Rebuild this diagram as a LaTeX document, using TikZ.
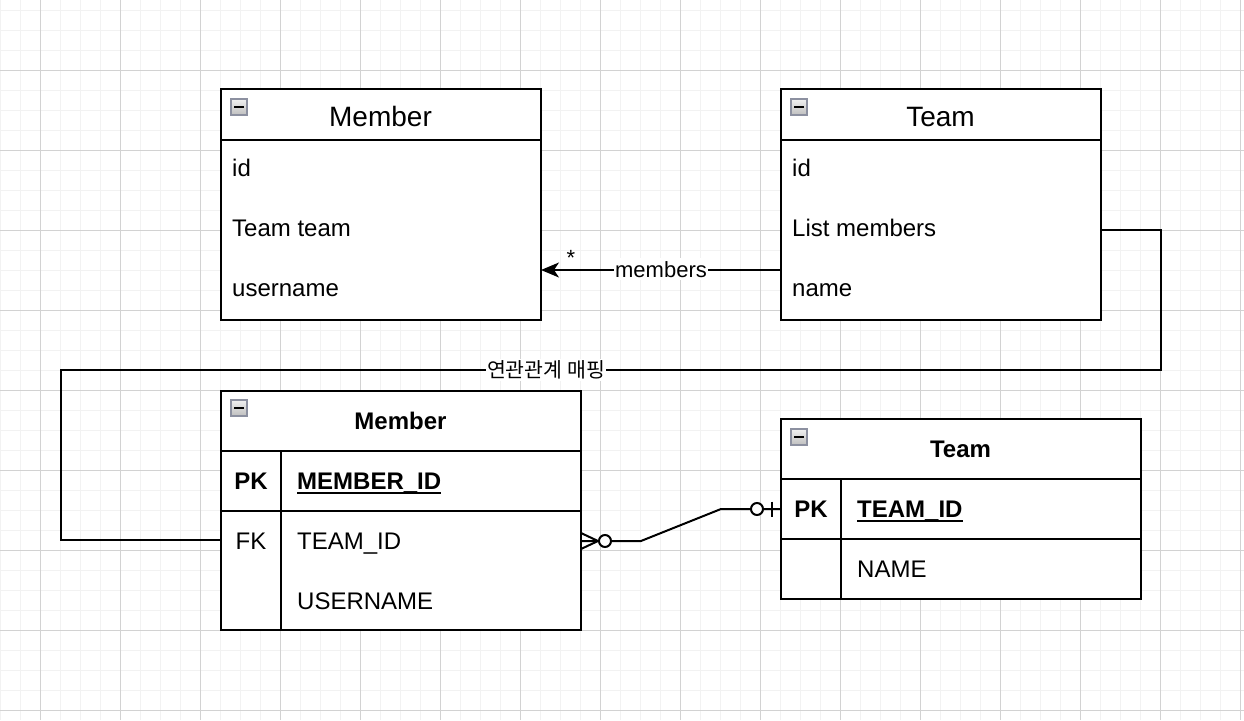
\documentclass[tikz,border=0pt]{standalone}
\usepackage{fontspec}
\setmainfont{Liberation Sans}
\newfontfamily\kofont{Noto Sans CJK KR}
\usetikzlibrary{arrows.meta}
\definecolor{minorgrid}{HTML}{F2F2F2}
\definecolor{majorgrid}{HTML}{D2D2D2}
\definecolor{iconborder}{HTML}{8C90A0}
\tikzset{
  tablebox/.style={draw=black, line width=2pt, fill=white, anchor=north west, inner sep=0pt, outer sep=0pt},
  edge/.style={draw=black, line width=2pt},
  rowtext/.style={font=\fontsize{24}{28}\selectfont, anchor=base west, inner sep=0pt},
  boldtext/.style={font=\fontsize{24}{28}\selectfont\bfseries, inner sep=0pt},
  titletext/.style={font=\fontsize{28}{32}\selectfont, anchor=base, inner sep=0pt},
  lbl/.style={font=\fontsize{22}{26}\selectfont, fill=white, inner xsep=1pt, inner ysep=3pt, anchor=base},
  iconbox/.style={draw=iconborder, line width=1.2pt, minimum size=16pt, inner sep=0pt,
    top color=gray!12, bottom color=gray!50,
    path picture={\draw[black, line width=2pt] ([xshift=-5pt]path picture bounding box.center) -- ([xshift=5pt]path picture bounding box.center);}},
  ringend/.style={draw=black, line width=2pt, fill=white, circle, minimum size=12pt, inner sep=0pt},
}
\begin{document}
\begin{tikzpicture}[x=1pt,y=-1pt]
\useasboundingbox (0,0) rectangle (1244,720);
\fill[white] (0,0) rectangle (1244,720);
% grid
\foreach \x in {0,20,...,1240} \draw[minorgrid, line width=1pt] (\x,0) -- (\x,720);
\foreach \y in {10,30,...,710} \draw[minorgrid, line width=1pt] (0,\y) -- (1244,\y);
\foreach \x in {40,120,...,1240} \draw[majorgrid, line width=1pt] (\x,0) -- (\x,720);
\foreach \y in {70,150,...,710} \draw[majorgrid, line width=1pt] (0,\y) -- (1244,\y);

% ---------- top Member class ----------
\node[tablebox, minimum width=320pt, minimum height=231pt] (cm) at (221,89) {};
\draw[edge] (221,140) -- (541,140);
\node[iconbox] (cmicon) at (239,107) {};
\node[titletext] (cmtitle) at (380.5,126) {Member};
\node[rowtext] (cmid) at (232,176) {id};
\node[rowtext] (cmteam) at (232,236) {Team team};
\node[rowtext] (cmuser) at (232,296) {username};

% ---------- top Team class ----------
\node[tablebox, minimum width=320pt, minimum height=231pt] (ct) at (781,89) {};
\draw[edge] (781,140) -- (1101,140);
\node[iconbox] (cticon) at (799,107) {};
\node[titletext] (cttitle) at (940.5,126) {Team};
\node[rowtext] (ctid) at (792,176) {id};
\node[rowtext] (ctlist) at (792,236) {List members};
\node[rowtext] (ctname) at (792,296) {name};

% ---------- bottom MEMBER table ----------
\node[tablebox, minimum width=360pt, minimum height=239pt] (tm) at (221,391) {};
\draw[edge] (221,451) -- (581,451);
\draw[edge] (221,511) -- (581,511);
\draw[edge] (281,451) -- (281,630);
\node[iconbox] (tmicon) at (239,408) {};
\node[boldtext, anchor=base] (tmtitle) at (400.5,429) {Member};
\node[boldtext, anchor=base] (tmpk) at (251,489) {PK};
\node[boldtext, anchor=base west] (tmmid) at (297,489) {MEMBER\_ID};
\draw[black, line width=2pt] ([yshift=-3.5pt]tmmid.base west) -- ([yshift=-3.5pt]tmmid.base east);
\node[rowtext, anchor=base] (tmfk) at (251,549) {FK};
\node[rowtext] (tmtid) at (297,549) {TEAM\_ID};
\node[rowtext] (tmuser) at (297,609) {USERNAME};

% ---------- bottom TEAM table ----------
\node[tablebox, minimum width=360pt, minimum height=180pt] (tt) at (781,419) {};
\draw[edge] (781,479) -- (1141,479);
\draw[edge] (781,539) -- (1141,539);
\draw[edge] (841,479) -- (841,599);
\node[iconbox] (tticon) at (799,437) {};
\node[boldtext, anchor=base] (tttitle) at (960.5,457) {Team};
\node[boldtext, anchor=base] (ttpk) at (811,517) {PK};
\node[boldtext, anchor=base west] (tttid) at (857,517) {TEAM\_ID};
\draw[black, line width=2pt] ([yshift=-3.5pt]tttid.base west) -- ([yshift=-3.5pt]tttid.base east);
\node[rowtext] (ttname) at (857,577) {NAME};

% ---------- members association ----------
\coordinate (arrS) at (781,270);
\coordinate (arrE) at (541,270);
\draw[edge, -{Stealth[length=18pt,width=15pt,inset=5pt]}] (arrS) -- (arrE)
  node[lbl, pos=0.5, yshift=-7pt] (memlbl) {members};
\node[font=\fontsize{22}{26}\selectfont, anchor=base, inner sep=0pt] (star) at (571,265) {*};

% ---------- mapping connector ----------
\coordinate (mp1) at (1101,230);
\coordinate (mp2) at (1161,230);
\coordinate (mp3) at (1161,370);
\coordinate (mp4) at (61,370);
\coordinate (mp5) at (61,540);
\coordinate (mp6) at (221,540);
\draw[edge, line join=miter] (mp1) -- (mp2) -- (mp3) -- (mp4) -- (mp5) -- (mp6);
\node[font=\kofont\fontsize{20.5}{24}\selectfont, fill=white, inner xsep=1pt, inner ysep=2pt, anchor=base] (maplbl) at (546,377.5) {연관관계 매핑};

% ---------- ER relationship ----------
\coordinate (er1) at (581,541);
\coordinate (er2) at (641,541);
\coordinate (er3) at (721,509);
\coordinate (er4) at (781,509);
\draw[edge, line join=miter] (er1) -- (er2) -- (er3) -- (er4);
\draw[edge] (581,533) -- (598,541) -- (581,549);
\node[ringend] (ringm) at (605,541) {};
\node[ringend] (ringt) at (757,509) {};
\draw[edge] (772,501.5) -- (772,516.5);
\end{tikzpicture}
\end{document}
